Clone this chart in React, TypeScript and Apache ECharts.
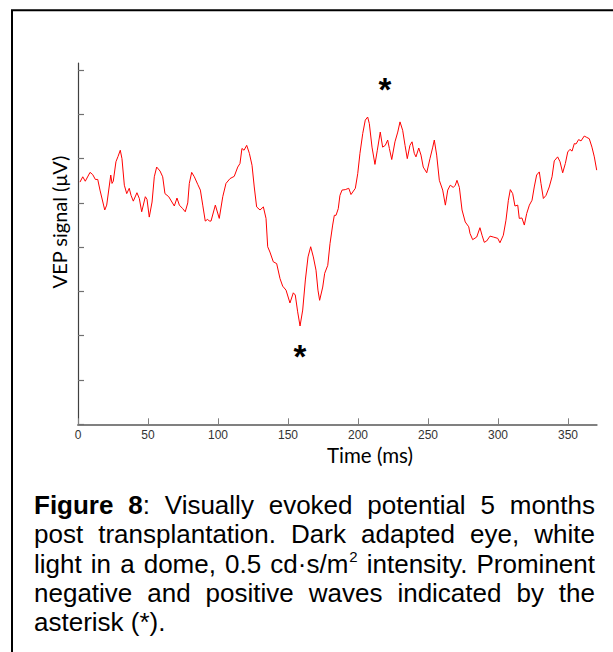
import React, { useEffect, useRef } from "react";
import * as echarts from "echarts";

// ---- data ----
const timesMs = [
  1.4, 3.4, 5.2, 8.6, 10.5, 12.4, 14.1, 15.7, 19.1, 20.5,
  23.4, 24.3, 25.2, 27.1, 28.6, 30.2, 31.4, 33.1, 34.8, 36.6,
  37.9, 39.5, 42.1, 43.8, 45.5, 48.1, 49.3, 50.9, 52.9, 54.5,
  56.2, 58.6, 60.5, 62.1, 64.8, 68.8, 70.7, 72.4, 74.8, 76.6,
  78.4, 79.5, 81.2, 83.1, 85.5, 87.4, 89.1, 90.9, 92.6, 93.8,
  95.0, 98.1, 100.9, 103.4, 105.7, 108.6, 111.6, 114.1, 115.7, 117.1,
  118.6, 120.5, 122.4, 124.3, 125.9, 127.6, 130.0, 132.4, 134.3, 135.5,
  137.1, 139.5, 141.9, 144.3, 146.2, 148.6, 151.4, 153.8, 155.2, 156.9,
  158.6, 160.5, 162.4, 164.3, 166.2, 168.1, 170.0, 171.4, 172.6, 174.8,
  176.2, 178.4, 180.0, 181.9, 183.1, 184.3, 185.9, 187.1,
  188.6, 190.9, 193.4, 195.0, 198.1, 199.8, 201.4, 203.4, 205.2, 206.9,
  208.1, 210.0, 212.1, 213.8, 215.9, 217.6, 219.5, 221.2, 222.4, 224.1,
  226.4, 228.4, 230.0, 231.9, 233.6, 235.2, 237.1, 238.6, 240.2, 241.4,
  243.4, 245.0, 246.6, 249.1, 251.4, 253.4, 254.5, 256.2, 258.1, 260.5,
  262.4, 264.1, 265.9, 268.1, 269.5, 270.7, 272.4, 274.3, 276.6, 279.1,
  280.0,
  281.9, 284.8, 287.1, 288.6, 290.2, 291.9, 294.3, 296.6, 299.8, 301.4,
  303.8, 305.7, 307.4, 308.8, 310.5, 312.1, 314.1, 315.2, 317.1, 318.8,
  320.5, 322.4, 324.3, 325.9, 327.6, 329.5, 330.7, 332.4, 334.3, 336.6,
  338.6, 340.2, 342.6, 344.3, 346.2, 348.1, 349.8, 351.4, 352.9, 354.5,
  355.7, 357.6, 359.3, 361.6, 363.4, 365.2, 367.1, 368.8, 370.5,
];

const vepValues = [
  1.47, 1.59, 1.49, 1.69, 1.64, 1.53, 1.53, 1.29, 0.84, 0.95,
  1.63, 1.44, 1.49, 1.93, 2.05, 2.19, 2.0, 1.4, 1.21, 1.33,
  1.17, 1.04, 1.23, 1.1, 0.8, 1.14, 1.08, 0.68, 1.02, 1.59,
  1.81, 1.72, 1.59, 1.21, 1.14, 0.93, 1.11, 0.95, 0.87, 0.8,
  1.0, 1.44, 1.69, 1.59, 1.42, 1.29, 0.95, 0.59, 0.63, 0.59,
  0.59, 0.95, 0.65, 1.14, 1.44, 1.55, 1.6, 1.81, 1.89, 2.23,
  2.19, 2.3, 2.12, 1.85, 1.36, 0.91, 0.84, 0.91, 0.65, 0.01,
  -0.11, -0.33, -0.37, -0.71, -0.88, -0.97, -1.26, -1.03, -1.08, -1.46,
  -1.78, -1.42, -0.74, -0.22, 0.01, -0.22, -0.52, -0.97, -1.2, -0.9,
  -0.59, -0.41, 0.08, 0.5, 0.72, 0.72, 0.87, 1.17,
  1.29, 1.3, 1.33, 1.19, 1.33, 1.66, 2.12, 2.57, 2.87, 2.94,
  2.79, 2.26, 1.87, 2.19, 2.6, 2.26, 2.3, 2.42, 2.23, 1.98,
  2.38, 2.6, 2.83, 2.64, 2.3, 2.0, 2.3, 2.38, 2.12, 2.04,
  2.24, 2.08, 1.81, 1.68, 2.0, 2.26, 2.42, 2.08, 1.51, 1.29,
  0.95, 1.29, 1.4, 1.35, 1.4, 1.51, 1.35, 0.84, 0.57, 0.46,
  0.31,
  0.17, 0.23, 0.44, 0.27, 0.11, 0.14, 0.25, 0.23, 0.2, 0.1,
  0.27, 0.61, 1.06, 1.3, 1.21, 0.93, 0.95, 0.65, 0.66, 0.5,
  0.76, 0.95, 1.06, 1.36, 1.63, 1.7, 1.44, 1.1, 1.17, 1.36,
  1.59, 1.95, 2.04, 1.93, 1.68, 1.89, 2.15, 2.21, 2.17, 2.34,
  2.33, 2.43, 2.4, 2.51, 2.48, 2.45, 2.26, 2.04, 1.74,
];

const xTickValues = [0, 50, 100, 150, 200, 250, 300, 350];
const yTickValues = [-4, -3, -2, -1, 0, 1, 2, 3, 4];
const asteriskTimes = [219.3, 158.6];
const asteriskValues = [3.57, -2.46];
const asteriskLabel = "*";

const xAxisTitle = "Time (ms)";
const yAxisTitle = "VEP signal (μV)";

// caption words; "b:" = bold run, "s:" = superscript run, "|" separates runs
const captionLine1 = ["b:Figure", "b:8|:", "Visually", "evoked", "potential", "5", "months"];
const captionLine2 = ["post", "transplantation.", "Dark", "adapted", "eye,", "white"];
const captionLine3 = ["light", "in", "a", "dome,", "0.5", "cd·s/m|s:2", "intensity.", "Prominent"];
const captionLine4 = ["negative", "and", "positive", "waves", "indicated", "by", "the"];
const captionLine5 = ["asterisk", "(*)."];

const W = 613;
const H = 652;

function buildCaption(): any[] {
  const lines = [captionLine1, captionLine2, captionLine3, captionLine4, captionLine5];
  const canvas = document.createElement("canvas");
  const ctx = canvas.getContext("2d") as CanvasRenderingContext2D;
  const FONT_FAMILY = '"Liberation Sans", Arial, sans-serif';
  const fonts: Record<string, string> = {
    n: `26px ${FONT_FAMILY}`,
    b: `bold 26px ${FONT_FAMILY}`,
    s: `15px ${FONT_FAMILY}`,
  };
  const measure = (t: string, f: string) => {
    ctx.font = f;
    return ctx.measureText(t).width;
  };
  const left = 34;
  const right = 595;
  const firstCenter = 505;
  const lineStep = 29.3;
  const els: any[] = [];
  lines.forEach((words, li) => {
    const parsed = words.map((w) =>
      w.split("|").map((r) => {
        if (r.startsWith("b:")) return { t: r.slice(2), k: "b" };
        if (r.startsWith("s:")) return { t: r.slice(2), k: "s" };
        return { t: r, k: "n" };
      })
    );
    const widths = parsed.map((runs) =>
      runs.reduce((a, r) => a + measure(r.t, fonts[r.k]) + (r.k === "s" ? 1 : 0), 0)
    );
    const total = widths.reduce((a, b) => a + b, 0);
    const isLast = li === lines.length - 1;
    const gap = isLast
      ? measure(" ", fonts.n)
      : (right - left - total) / (parsed.length - 1);
    const cy = firstCenter + li * lineStep;
    let x = left;
    parsed.forEach((runs, wi) => {
      let rx = x;
      runs.forEach((r) => {
        const isSup = r.k === "s";
        els.push({
          type: "text",
          x: rx + (isSup ? 1 : 0),
          y: isSup ? cy - 7 : cy,
          style: {
            text: r.t,
            font: fonts[r.k],
            fill: "#000",
            align: "left",
            verticalAlign: "middle",
            textAlign: "left",
            textVerticalAlign: "middle",
          },
        });
        rx += measure(r.t, fonts[r.k]) + (isSup ? 1 : 0);
      });
      x += widths[wi] + gap;
    });
  });
  return els;
}

export default function App() {
  const ref = useRef<HTMLDivElement>(null);

  useEffect(() => {
    if (!ref.current) return;
    const chart = echarts.init(ref.current, undefined, { renderer: "svg", width: W, height: H });

    const seriesData = timesMs
      .slice(0, Math.min(timesMs.length, vepValues.length))
      .map((t, i) => [t, vepValues[i]]);

    const option: any = {
      animation: false,
      backgroundColor: "#ffffff",
      grid: { left: 78, right: 16.3, top: 63, bottom: 227.7, containLabel: false },
      xAxis: {
        type: "value",
        min: 0,
        max: 370.5,
        axisLine: { show: true, onZero: false, lineStyle: { color: "#808080", width: 2 } },
        axisTick: {
          show: true,
          inside: true,
          length: 6,
          customValues: xTickValues,
          lineStyle: { color: "#808080", width: 1 },
        },
        axisLabel: {
          show: true,
          customValues: xTickValues,
          fontSize: 12,
          fontFamily: '"Liberation Sans", Arial, sans-serif',
          color: "#333",
          margin: 5,
        },
        splitLine: { show: false },
      },
      yAxis: {
        type: "value",
        min: -4,
        max: 4.16,
        axisLine: { show: true, onZero: false, lineStyle: { color: "#404040", width: 1.2 } },
        axisTick: {
          show: true,
          inside: true,
          length: 6,
          customValues: yTickValues,
          lineStyle: { color: "#707070", width: 1.2 },
        },
        axisLabel: { show: false },
        splitLine: { show: false },
      },
      series: [
        {
          type: "line",
          data: seriesData,
          showSymbol: false,
          symbol: "none",
          lineStyle: { color: "#ff0000", width: 1 },
          itemStyle: { color: "#ff0000" },
          markPoint: {
            symbol: "rect",
            symbolSize: 1,
            itemStyle: { color: "rgba(0,0,0,0)" },
            label: {
              show: true,
              position: "inside",
              formatter: asteriskLabel,
              fontSize: 33,
              fontWeight: "bold",
              fontFamily: '"Liberation Sans", Arial, sans-serif',
              color: "#000",
            },
            data: asteriskTimes.map((t, i) => ({ coord: [t, asteriskValues[i]] })),
          },
        },
      ],
      graphic: [
        {
          type: "rect",
          shape: { x: 12, y: 10.3, width: 640, height: 700 },
          style: { fill: "none", stroke: "#000", lineWidth: 2 },
          silent: true,
        },
        {
          type: "text",
          x: 370,
          y: 455,
          style: {
            text: xAxisTitle,
            font: '20.5px Lato, "Open Sans", sans-serif',
            fill: "#000",
            align: "center",
            verticalAlign: "middle",
            textAlign: "center",
            textVerticalAlign: "middle",
          },
        },
        {
          type: "text",
          x: 59,
          y: 222,
          rotation: Math.PI / 2,
          style: {
            text: yAxisTitle,
            font: '20px Lato, "Open Sans", sans-serif',
            fill: "#000",
            align: "center",
            verticalAlign: "middle",
            textAlign: "center",
            textVerticalAlign: "middle",
          },
        },
        ...buildCaption(),
      ],
    };

    chart.setOption(option);
    return () => {
      chart.dispose();
    };
  }, []);

  return (
    <div
      ref={ref}
      style={{ position: "absolute", left: 0, top: 0, width: W, height: H, background: "#fff" }}
    />
  );
}
